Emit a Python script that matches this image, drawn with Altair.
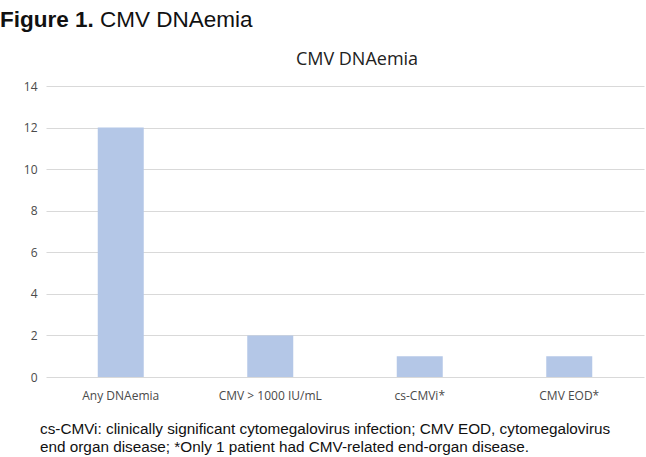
import altair as alt
import pandas as pd

# Patients with each CMV outcome
categories = ["Any DNAemia", "CMV > 1000 IU/mL", "cs-CMVi*", "CMV EOD*"]
counts = [12, 2, 1, 1]

y_ticks = [0, 2, 4, 6, 8, 10, 12, 14]

header_bold = "Figure 1."
header_rest = "CMV DNAemia"
chart_title = "CMV DNAemia"
caption_lines = [
    "cs-CMVi: clinically significant cytomegalovirus infection; CMV EOD, cytomegalovirus",
    "end organ disease; *Only 1 patient had CMV-related end-organ disease.",
]

df = pd.DataFrame({"category": categories, "count": counts})

W, H = 598, 291
AXIS_FONT = "Open Sans"

bars = alt.Chart(df).mark_bar(size=46, color="#b4c7e7").encode(
    x=alt.X(
        "category:N",
        sort=categories,
        scale=alt.Scale(paddingInner=0, paddingOuter=0),
        axis=alt.Axis(
            title=None, labelAngle=0, domain=False, ticks=False,
            labelPadding=13, labelFont=AXIS_FONT, labelFontSize=12,
            labelColor="#4a4a4a",
        ),
    ),
    y=alt.Y(
        "count:Q",
        scale=alt.Scale(domain=[0, 14], nice=False),
        axis=alt.Axis(
            title=None, values=y_ticks, domain=False, ticks=False,
            labelPadding=9, labelFont=AXIS_FONT, labelFontSize=12,
            labelColor="#4a4a4a", gridColor="#d9d9d9", gridWidth=1,
        ),
    ),
)


def text_layer(txt, x, y, **style):
    return alt.Chart(pd.DataFrame({"t": [txt]})).mark_text(
        align="left", baseline="alphabetic", color="#111111", **style
    ).encode(x=alt.value(x), y=alt.value(y), text="t:N")


# Chart title above the plot
title = alt.Chart(pd.DataFrame({"t": [chart_title]})).mark_text(
    font=AXIS_FONT, fontSize=18, color="#222222", align="center", baseline="middle"
).encode(x=alt.value(311), y=alt.value(-26), text="t:N")

# Figure header at the top left
head1 = text_layer(header_bold, -46, -59, font="Liberation Sans", fontSize=22.5, fontWeight="bold")
head2 = text_layer(header_rest, 54, -59, font="Liberation Sans", fontSize=22.5)

# Footnote below the axis
cap1 = text_layer(caption_lines[0], -6, H + 57, font="Liberation Sans", fontSize=15.3)
cap2 = text_layer(caption_lines[1], -6, H + 75, font="Liberation Sans", fontSize=15.3)

chart = alt.layer(bars, title, head1, head2, cap1, cap2).properties(
    width=W, height=H,
    autosize=alt.AutoSizeParams(type="none"),
    padding={"left": 46, "top": 86, "right": 2, "bottom": 80},
).configure_view(stroke=None)

chart.save("out.html", embed_options={"renderer": "svg", "actions": False})
